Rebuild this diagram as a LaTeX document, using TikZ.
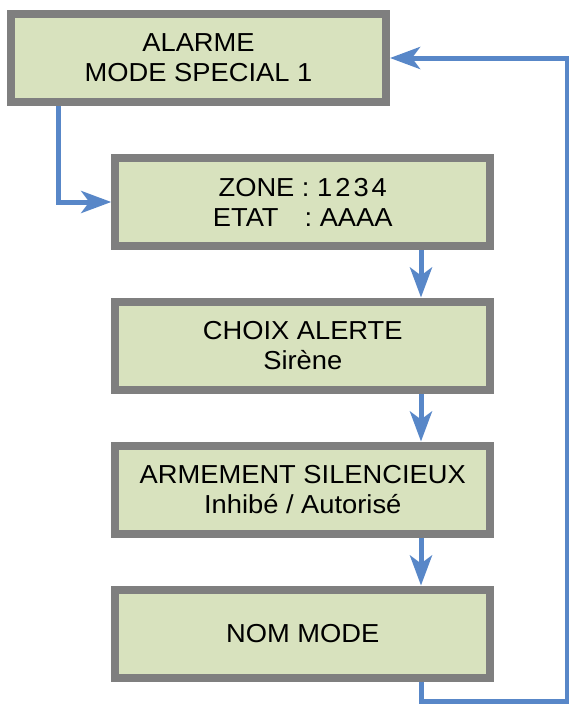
\documentclass[tikz,border=0pt]{standalone}
\usepackage{fontspec}
\setmainfont[FakeStretch=1.05]{Liberation Sans}
\usetikzlibrary{arrows.meta}
\definecolor{boxfill}{HTML}{D8E2BE}
\definecolor{boxline}{HTML}{7F7F7F}
\definecolor{conncol}{HTML}{5887C8}
\begin{document}
\begin{tikzpicture}[x=1pt,y=-1pt,
  box/.style={draw=boxline, fill=boxfill, line width=8pt, rectangle,
    minimum width=375pt, minimum height=88pt, inner sep=0pt, align=center,
    font=\fontsize{26}{30}\selectfont},
  conn/.style={draw=conncol, line width=5pt,
    -{Stealth[length=30pt,width=22pt,inset=8pt]}},
  connline/.style={draw=conncol, line width=5pt}]
\useasboundingbox (0,0) rectangle (569,705);
\node[box] (b1) at (198.5,58) {ALARME\\MODE SPECIAL 1};
\node[box] (b2) at (302.75,202) {ZONE : 1\hspace{3pt}2\hspace{3pt}3\hspace{3pt}4\\ETAT\hspace{26pt}: AAAA};
\node[box] (b3) at (302.75,345.5) {CHOIX ALERTE\\Sirène};
\node[box] (b4) at (302.75,489.5) {ARMEMENT SILENCIEUX\\Inhibé / Autorisé};
\node[box] (b5) at (302.75,633.5) {NOM MODE};
\coordinate (k1) at (58,0);
\coordinate (k2) at (421,0);
\coordinate (c1) at (421,701);
\coordinate (c2) at (567,701);
\coordinate (c3) at (567,58);
\draw[conn] (k1 |- b1.south) |- (b2.west);
\draw[conn] (k2 |- b2.south) -- (k2 |- b3.north);
\draw[conn] (k2 |- b3.south) -- (k2 |- b4.north);
\draw[conn] (k2 |- b4.south) -- (k2 |- b5.north);
\draw[conn] (k2 |- b5.south) -- (c1) -- (c2) -- (c3) -- (b1.east);
\end{tikzpicture}
\end{document}
